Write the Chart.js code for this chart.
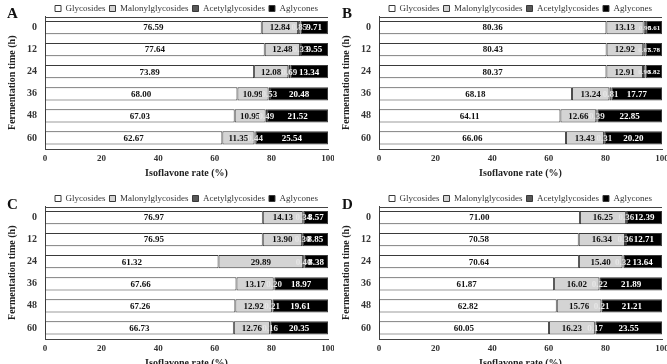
<!DOCTYPE html>
<html>
<head>
<meta charset="utf-8">
<script src="https://cdn.jsdelivr.net/npm/chart.js@4/dist/chart.umd.min.js"></script>
<style>
  html, body { margin: 0; padding: 0; background: #fff; }
  body { width: 667px; height: 364px; overflow: hidden; position: relative; }
  .panel { position: absolute; width: 334px; height: 182px; }
  .letter {
    position: absolute; font: bold 15px 'Liberation Serif', 'Times New Roman', serif;
    line-height: 1; color: #111;
  }
</style>
</head>
<body>
<div class="panel" style="left:0;top:0"><canvas id="chartA" width="334" height="182"></canvas></div>
<div class="panel" style="left:334px;top:0"><canvas id="chartB" width="334" height="182"></canvas></div>
<div class="panel" style="left:0;top:190px"><canvas id="chartC" width="334" height="182"></canvas></div>
<div class="panel" style="left:334px;top:190px"><canvas id="chartD" width="334" height="182"></canvas></div>
<div class="letter" style="left:7px;top:6px">A</div>
<div class="letter" style="left:342px;top:6px">B</div>
<div class="letter" style="left:7px;top:197px">C</div>
<div class="letter" style="left:342px;top:197px">D</div>
<script>
const times = ['0', '12', '24', '36', '48', '60'];
const seriesNames = ['Glycosides', 'Malonylglycosides', 'Acetylglycosides', 'Aglycones'];

// panel A
const glyA = [76.59, 77.64, 73.89, 68.00, 67.03, 62.67];
const malA = [12.84, 12.48, 12.08, 10.99, 10.95, 11.35];
const aceA = [0.85, 0.33, 0.69, 0.53, 0.49, 0.44];
const aglA = [9.71, 9.55, 13.34, 20.48, 21.52, 25.54];

// panel B
const glyB = [80.36, 80.43, 80.37, 68.18, 64.11, 66.06];
const malB = [13.13, 12.92, 12.91, 13.24, 12.66, 13.43];
const aceB = [0.90, 0.87, 0.90, 0.81, 0.39, 0.31];
const aglB = [5.61, 5.78, 5.82, 17.77, 22.85, 20.20];

// panel C
const glyC = [76.97, 76.95, 61.32, 67.66, 67.26, 66.73];
const malC = [14.13, 13.90, 29.89, 13.17, 12.92, 12.76];
const aceC = [0.34, 0.30, 0.40, 0.20, 0.21, 0.16];
const aglC = [8.57, 8.85, 8.38, 18.97, 19.61, 20.35];

// panel D
const glyD = [71.00, 70.58, 70.64, 61.87, 62.82, 60.05];
const malD = [16.25, 16.34, 15.40, 16.02, 15.76, 16.23];
const aceD = [0.36, 0.36, 0.32, 0.22, 0.21, 0.17];
const aglD = [12.39, 12.71, 13.64, 21.89, 21.21, 23.55];

const xTicks = [0, 20, 40, 60, 80, 100];

const fills = ['#ffffff', '#d4d4d4', '#595959', '#000000'];
const labelColors = ['#111111', '#111111', '#e6e6e6', '#ffffff'];
const SERIF = "'Liberation Serif', 'Times New Roman', serif";

Chart.defaults.font.family = SERIF;
Chart.defaults.color = '#222';

// legend is drawn by Chart.js but its box is kept short, like the original figure
const legendFit = {
    id: 'legendFit',
    beforeLayout(chart) {
        const lg = chart.legend;
        if (lg && !lg._patched) {
            const fit = lg.fit;
            lg.fit = function () { fit.call(this); this.height = 16.5; };
            lg._patched = true;
        }
    }
};

// top frame line of the plot area
const topFrame = {
    id: 'topFrame',
    afterDraw(chart) {
        const { ctx, chartArea } = chart;
        ctx.save();
        ctx.strokeStyle = '#444';
        ctx.lineWidth = 1;
        ctx.beginPath();
        ctx.moveTo(chartArea.left, Math.round(chartArea.top) + 0.5);
        ctx.lineTo(chartArea.right, Math.round(chartArea.top) + 0.5);
        ctx.stroke();
        ctx.restore();
    }
};

// value labels centred on each segment
const segLabels = {
    id: 'segLabels',
    afterDatasetsDraw(chart) {
        const { ctx } = chart;
        const agl = chart.data.datasets[3].data;
        ctx.save();
        ctx.textAlign = 'center';
        ctx.textBaseline = 'middle';
        chart.data.datasets.forEach((ds, di) => {
            const meta = chart.getDatasetMeta(di);
            meta.data.forEach((bar, i) => {
                const small = di >= 2 && agl[i] < 7;
                ctx.font = 'bold ' + (small ? 7 : 9) + 'px ' + SERIF;
                ctx.fillStyle = labelColors[di];
                ctx.fillText(ds.data[i].toFixed(2), (bar.x + bar.base) / 2, bar.y + 0.5);
            });
        });
        ctx.restore();
    }
};

function makePanel(id, gly, mal, ace, agl) {
    const values = [gly, mal, ace, agl];
    return new Chart(document.getElementById(id), {
        type: 'bar',
        data: {
            labels: times,
            datasets: seriesNames.map((name, k) => ({
                label: name,
                data: values[k],
                backgroundColor: fills[k],
                borderColor: '#3a3a3a',
                borderWidth: 1,
                borderSkipped: false,
                categoryPercentage: 1,
                barPercentage: 0.6
            }))
        },
        options: {
            indexAxis: 'y',
            responsive: false,
            animation: false,
            layout: { padding: { left: 0, right: 0, top: 0, bottom: 0 } },
            scales: {
                x: {
                    stacked: true,
                    min: 0,
                    max: 100,
                    afterBuildTicks: (scale) => { scale.ticks = xTicks.map(v => ({ value: v })); },
                    afterFit: (scale) => {
                        scale.height = 33;
                        scale.paddingLeft = 0;
                        scale.paddingRight = 6;
                    },
                    grid: { display: false, drawTicks: false },
                    border: { display: true, color: '#444', width: 1 },
                    ticks: { padding: 4, font: { size: 9, weight: 'bold' }, color: '#333' },
                    title: {
                        display: true,
                        text: 'Isoflavone rate (%)',
                        font: { size: 10, weight: 'bold' },
                        color: '#222',
                        padding: { top: 0, bottom: 3 }
                    }
                },
                y: {
                    stacked: true,
                    afterFit: (scale) => { scale.width = 45; },
                    grid: { display: false, drawTicks: false },
                    border: { display: true, color: '#444', width: 1 },
                    ticks: { padding: 8, font: { size: 10, weight: 'bold' }, color: '#333' },
                    title: {
                        display: true,
                        text: 'Fermentation time (h)',
                        font: { size: 10, weight: 'bold' },
                        color: '#222',
                        padding: { top: 6, bottom: 0 }
                    }
                }
            },
            plugins: {
                legend: {
                    position: 'top',
                    fullSize: false,
                    labels: {
                        boxWidth: 6,
                        boxHeight: 6,
                        padding: 4,
                        font: { size: 9 },
                        color: '#333'
                    }
                },
                tooltip: { enabled: false }
            }
        },
        plugins: [legendFit, topFrame, segLabels]
    });
}

makePanel('chartA', glyA, malA, aceA, aglA);
makePanel('chartB', glyB, malB, aceB, aglB);
makePanel('chartC', glyC, malC, aceC, aglC);
makePanel('chartD', glyD, malD, aceD, aglD);
</script>
</body>
</html>
